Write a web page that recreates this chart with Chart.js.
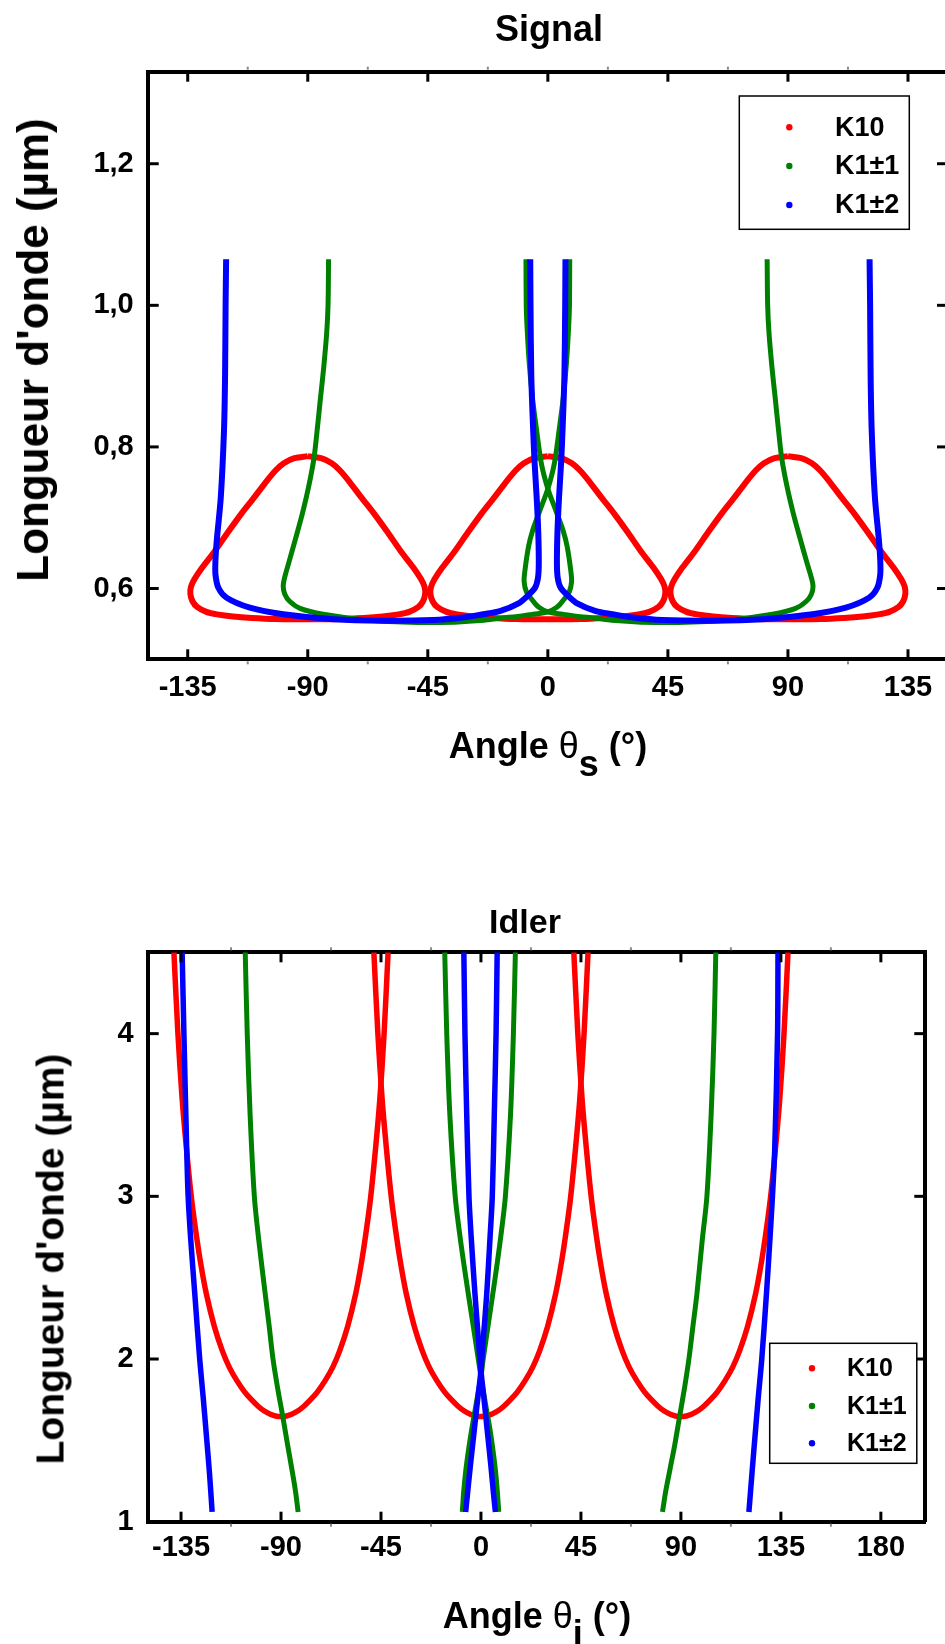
<!DOCTYPE html>
<html>
<head>
<meta charset="utf-8">
<script src="https://cdn.jsdelivr.net/npm/chart.js@4.4.1/dist/chart.umd.min.js"></script>
<style>
html,body{margin:0;padding:0;background:#fff;width:945px;height:1644px;overflow:hidden;}
#wrap{position:relative;width:945px;height:1644px;overflow:hidden;background:#fff;}
canvas{position:absolute;left:0;}
.t{position:absolute;font-family:"Liberation Sans",Arial,sans-serif;font-weight:bold;color:#000;white-space:nowrap;line-height:1;}
.sub{position:relative;top:0.5em;}
.th{font-weight:normal;}
</style>
</head>
<body>
<div id="wrap">
  <canvas id="c1" width="960" height="800" style="top:0px;width:960px;height:800px;"></canvas>
  <canvas id="c2" width="945" height="774" style="top:870px;width:945px;height:774px;"></canvas>
  <div class="t" style="left:549px;top:11px;font-size:36px;transform:translateX(-50%);">Signal</div>
  <div class="t" style="left:548px;top:728px;font-size:36px;transform:translateX(-50%);">Angle <span class="th">θ</span><span class="sub">s</span> (°)</div>
  <div class="t" style="left:33px;top:350px;font-size:44px;transform:translate(-50%,-50%) rotate(-90deg);">Longueur d'onde (µm)</div>
  <div class="t" style="left:525px;top:904px;font-size:34px;transform:translateX(-50%);">Idler</div>
  <div class="t" style="left:537px;top:1598px;font-size:36px;transform:translateX(-50%);">Angle <span class="th">θ</span><span class="sub">i</span> (°)</div>
  <div class="t" style="left:50px;top:1259px;font-size:39px;transform:translate(-50%,-50%) rotate(-90deg);">Longueur d'onde (µm)</div>
</div>
<script>
// ---------------- DATA ----------------
const seriesNames = ['K10', 'K1±1', 'K1±2'];

// Signal chart axes
const sigXRange = [-150, 150];
const sigYRange = [0.5, 1.33];
const sigXTicks = [-135, -90, -45, 0, 45, 90, 135];
const sigYTicks = [0.6, 0.8, 1.0, 1.2];
const sigYLabels = ['0,6', '0,8', '1,0', '1,2'];

// Signal K10: three closed loops (shared wavelength list)
const sigK10Lambda = [0.787,0.784,0.777,0.767,0.749,0.729,0.705,0.679,0.652,0.630,0.613,0.602,0.592,0.582,0.574,0.567,0.5635,0.5605,0.5585,0.557,0.5565,0.557,0.5585,0.5605,0.5635,0.567,0.574,0.582,0.592,0.602,0.613,0.630,0.652,0.679,0.705,0.729,0.749,0.767,0.777,0.784,0.787];
const sigK10LoopA = [-90,-85,-81,-78,-74,-70,-65,-60,-55,-50.5,-47.5,-46.2,-46,-46.8,-48.5,-52,-56,-62,-69,-78,-90,-102,-111,-118,-124,-128,-131.5,-133.2,-134,-133.8,-132.5,-129.5,-125,-120,-115,-110,-106,-102,-99,-95,-90];
const sigK10LoopB = [0,5,9,12,16,20,25,30,35,39.5,42.5,43.8,44,43.2,41.5,38,34,28,21,12,0,-12,-21,-28,-34,-38,-41.5,-43.2,-44,-43.8,-42.5,-39.5,-35,-30,-25,-20,-16,-12,-9,-5,0];
const sigK10LoopC = [90,95,99,102,106,110,115,120,125,129.5,132.5,133.8,134,133.2,131.5,128,124,118,111,102,90,78,69,62,56,52,48.5,46.8,46,46.2,47.5,50.5,55,60,65,70,74,78,81,85,90];

// Signal K1±1: two curves (shared wavelength list)
const sigK11Lambda = [1.065,1.0,0.961,0.913,0.87,0.83,0.786,0.745,0.706,0.670,0.638,0.615,0.603,0.592,0.582,0.572,0.5637,0.5555,0.552,0.5525,0.555,0.558,0.561,0.5637,0.567,0.574,0.583,0.595,0.61,0.628,0.66,0.682,0.71,0.741,0.776,0.823,0.87,0.92,0.97,1.0,1.065];
const sigK11Left  = [-82.2,-82.4,-82.9,-84.0,-85.2,-86.3,-87.6,-89.6,-92.0,-94.6,-97.0,-98.7,-99.2,-98.6,-96.8,-92.9,-84.2,-68,-49,-35,-24,-18,-10.5,-5.5,0,3.5,5.7,8,8.9,8.5,7.2,5.7,3,0,-2.4,-4.2,-5.8,-7,-7.8,-8.1,-8.2];
const sigK11Right = [82.2,82.4,82.9,84.0,85.2,86.3,87.6,89.6,92.0,94.6,97.0,98.8,99.4,98.8,96.9,92.9,84.2,68,49,35,24,18,10.5,5.5,0,-3.5,-5.7,-8,-8.9,-8.5,-7.2,-5.7,-3,0,2.4,4.2,5.8,7,7.8,8.1,8.2];

// Signal K1±2: two curves (shared wavelength list)
const sigK12Lambda = [1.065,1.0,0.9,0.823,0.729,0.668,0.64,0.62,0.601,0.587,0.573,0.5637,0.5566,0.5545,0.5555,0.559,0.5637,0.568,0.579,0.590,0.601,0.615,0.635,0.68,0.729,0.78,0.823,0.9,1.0,1.065];
const sigK12Left  = [-120.6,-120.8,-121.0,-121.4,-122.6,-124.1,-124.6,-124.6,-123.5,-120.4,-111.7,-99.2,-80.4,-61.7,-43,-32,-24.2,-18,-11,-7.5,-4.8,-3.7,-3.4,-3.6,-4.2,-5.0,-5.5,-6.2,-6.5,-6.6];
const sigK12Right = [120.6,120.8,121.0,121.4,122.6,124.1,124.6,124.6,123.5,120.4,111.7,99.2,80.4,61.7,43,32,24.2,18,11,7.5,4.8,3.7,3.4,3.6,4.2,5.0,5.5,6.2,6.5,6.6];

// Idler chart axes
const idlXRange = [-150, 200];
const idlYRange = [1, 4.5];
const idlXTicks = [-135, -90, -45, 0, 45, 90, 135, 180];
const idlYTicks = [1, 2, 3, 4];
const idlYLabels = ['1', '2', '3', '4'];

// Idler K10: three U-shaped curves (shared wavelength list)
const idlK10Lambda = [4.5,4.0,3.6,3.3,3.0,2.8,2.6,2.4,2.2,2.05,1.95,1.87,1.80,1.75,1.71,1.68,1.66,1.65,1.646,1.65,1.66,1.68,1.71,1.75,1.80,1.87,1.95,2.05,2.2,2.4,2.6,2.8,3.0,3.3,3.6,4.0,4.5];
const idlK10UA = [-138.2,-136.4,-134.5,-132.6,-130.4,-128.5,-126.3,-123.6,-120,-116.4,-113.3,-110,-106.5,-103.3,-100.3,-97.5,-94.8,-92.5,-90,-87.5,-85.2,-82.5,-79.7,-76.7,-73.5,-70,-66.7,-63.6,-60,-56.4,-53.7,-51.5,-49.6,-47.4,-45.5,-43.6,-41.8];
const idlK10UB = [-48.2,-46.4,-44.5,-42.6,-40.4,-38.5,-36.3,-33.6,-30,-26.4,-23.3,-20,-16.5,-13.3,-10.3,-7.5,-4.8,-2.5,0,2.5,4.8,7.5,10.3,13.3,16.5,20,23.3,26.4,30,33.6,36.3,38.5,40.4,42.6,44.5,46.4,48.2];
const idlK10UC = [41.8,43.6,45.5,47.4,49.6,51.5,53.7,56.4,60,63.6,66.7,70,73.5,76.7,79.7,82.5,85.2,87.5,90,92.5,94.8,97.5,100.3,103.3,106.5,110,113.3,116.4,120,123.6,126.3,128.5,130.4,132.6,134.5,136.4,138.2];

// Idler K1±1
const idlK11OuterLambda = [4.5,4.0,3.5,3.0,2.73,2.4,2.2,2.0,1.82,1.646,1.47,1.33,1.19,1.06];
const idlK11OuterLeft  = [-106.1,-105.2,-103.9,-102.0,-100.0,-97.1,-95.3,-93.6,-91.5,-89.2,-87.0,-85.2,-83.5,-82.3];
const idlK11OuterRight = [105.7,104.9,103.6,101.7,99.6,97.2,95.4,93.6,91.6,89.4,87.2,85.2,83.2,81.7];
const idlK11InnerLambda = [4.5,4.0,3.5,3.0,2.75,2.5,2.25,2.0,1.89,1.72,1.564,1.44,1.317,1.18,1.06];
const idlK11InnerA = [-16.3,-15.4,-14.0,-11.6,-9.4,-6.8,-4.0,-1.2,0,2.1,4.1,5.4,6.5,7.4,8.0];
const idlK11InnerB = [15.5,14.6,13.3,11.0,8.9,6.4,3.7,1.0,0,-2.2,-4.2,-5.6,-6.8,-7.8,-8.4];

// Idler K1±2
const idlK12OuterLeftLambda  = [4.5,4.0,3.32,3.0,2.73,2.4,2.0,1.76,1.533,1.3,1.06];
const idlK12OuterLeft        = [-134.5,-133.7,-132.5,-131.8,-130.6,-128.8,-126.6,-125,-123.6,-122.2,-121];
const idlK12OuterRightLambda = [4.5,4.0,3.28,3.0,2.70,2.4,2.0,1.76,1.533,1.3,1.06];
const idlK12OuterRight       = [133.7,133.5,132.2,131.2,129.9,128.5,126.4,124.8,123.4,122,120.6];
const idlK12InnerLambda = [4.5,4.0,3.5,3.0,2.75,2.4,2.15,1.93,1.75,1.564,1.34,1.18,1.06];
const idlK12InnerA = [-7.7,-7.2,-6.4,-5.4,-4.4,-2.7,-1.3,0,1.4,2.8,4.5,5.6,6.5];
const idlK12InnerB = [7.3,6.8,6.0,5.1,4.1,2.6,1.2,0,-1.5,-3.0,-4.8,-6.0,-6.9];

// ---------------- STYLE ----------------
const RED = '#ff0000', GREEN = '#008000', BLUE = '#0000ff';
const FONT = "'Liberation Sans', Arial, sans-serif";

function curve(label, xs, ys, color, width, order, inLegend) {
  return {
    label: label,
    data: xs.map((x, i) => ({x: x, y: ys[i]})),
    borderColor: color, backgroundColor: color,
    borderWidth: width, showLine: true, fill: false,
    pointRadius: 0, pointHoverRadius: 0, pointHitRadius: 0,
    tension: 0.3, order: order, clip: 0,
    inLegend: inLegend
  };
}

const frameAndLegend = {
  id: 'frameAndLegend',
  afterDraw(chart, args, opts) {
    const ctx = chart.ctx, a = chart.chartArea;
    const xs = chart.scales.x, ys = chart.scales.y;
    ctx.save();
    const seg = (x1, y1, x2, y2) => { ctx.beginPath(); ctx.moveTo(x1, y1); ctx.lineTo(x2, y2); ctx.stroke(); };
    // major inward ticks
    ctx.strokeStyle = '#000'; ctx.lineWidth = 3; ctx.lineCap = 'butt';
    xs.ticks.forEach(t => {
      const p = xs.getPixelForValue(t.value);
      seg(p, a.bottom, p, a.bottom - 10);
      seg(p, a.top, p, a.top + 10);
    });
    ys.ticks.forEach(t => {
      const p = ys.getPixelForValue(t.value);
      seg(a.left, p, a.left + 11, p);
      seg(a.right, p, a.right - 11, p);
    });
    // minor outward ticks on x
    ctx.strokeStyle = '#888'; ctx.lineWidth = 2;
    const tv = xs.ticks.map(t => t.value);
    const step = tv[1] - tv[0];
    const minors = [];
    tv.forEach(v => { minors.push(v - step / 2); minors.push(v + step / 2); });
    [...new Set(minors)].filter(v => v > xs.min && v < xs.max).forEach(v => {
      const p = xs.getPixelForValue(v);
      seg(p, a.bottom + 2, p, a.bottom + 5);
      seg(p, a.top - 2, p, a.top - 5);
    });
    // legend
    const L = opts;
    ctx.strokeStyle = '#000'; ctx.lineWidth = 1.5;
    ctx.fillStyle = '#fff';
    ctx.fillRect(L.x, L.y, L.w, L.h);
    ctx.strokeRect(L.x, L.y, L.w, L.h);
    const items = chart.data.datasets.filter(d => d.inLegend);
    ctx.font = 'bold ' + L.size + 'px ' + FONT;
    ctx.textBaseline = 'middle'; ctx.textAlign = 'left';
    items.forEach((d, i) => {
      const yy = L.rows[i];
      ctx.fillStyle = d.borderColor;
      ctx.beginPath(); ctx.arc(L.dotX, yy, 3.2, 0, Math.PI * 2); ctx.fill();
      ctx.fillStyle = '#000';
      ctx.fillText(d.label, L.textX, yy + 1);
    });
    ctx.restore();
  }
};

function axes(xr, yr, xt, yt, ylabels, pad) {
  const tickFont = {family: FONT, weight: 'bold', size: 29};
  const common = {
    type: 'linear', grid: {display: false, drawTicks: false},
    border: {display: true, width: 4, color: '#000'}, z: 1
  };
  return {
    x: Object.assign({}, common, {
      position: 'bottom', min: xr[0], max: xr[1],
      afterBuildTicks: s => { s.ticks = xt.map(v => ({value: v})); },
      ticks: {font: tickFont, color: '#000', padding: pad.xl, autoSkip: false, maxRotation: 0,
              callback: (v) => String(v)},
      afterFit: s => { s.height = 60; }
    }),
    x2: Object.assign({}, common, {
      position: 'top', min: xr[0], max: xr[1],
      ticks: {display: false}, afterFit: s => { s.height = 0; }
    }),
    y: Object.assign({}, common, {
      position: 'left', min: yr[0], max: yr[1],
      afterBuildTicks: s => { s.ticks = yt.map(v => ({value: v})); },
      ticks: {font: tickFont, color: '#000', padding: 14, autoSkip: false,
              callback: (v, i) => ylabels[i]},
      afterFit: s => { s.width = 147.7; }
    }),
    y2: Object.assign({}, common, {
      position: 'right', min: yr[0], max: yr[1],
      ticks: {display: false}, afterFit: s => { s.width = 0; }
    })
  };
}

// ---------------- SIGNAL ----------------
new Chart(document.getElementById('c1'), {
  type: 'scatter',
  data: {
    datasets: [
      curve(seriesNames[0], sigK10LoopA, sigK10Lambda, RED, 6, 3, true),
      curve(seriesNames[0], sigK10LoopB, sigK10Lambda, RED, 6, 3, false),
      curve(seriesNames[0], sigK10LoopC, sigK10Lambda, RED, 6, 3, false),
      curve(seriesNames[1], sigK11Left, sigK11Lambda, GREEN, 5, 2, true),
      curve(seriesNames[1], sigK11Right, sigK11Lambda, GREEN, 5, 2, false),
      curve(seriesNames[2], sigK12Left, sigK12Lambda, BLUE, 6, 1, true),
      curve(seriesNames[2], sigK12Right, sigK12Lambda, BLUE, 6, 1, false)
    ]
  },
  options: {
    responsive: false, animation: false, devicePixelRatio: 1,
    layout: {padding: {top: 71.7, left: 0, right: 12, bottom: 80.7}},
    plugins: {
      legend: {display: false}, tooltip: {enabled: false}, title: {display: false},
      frameAndLegend: {x: 739.3, y: 96, w: 170, h: 133.3, dotX: 789.3, textX: 835, rows: [127.3, 166, 205], size: 27}
    },
    scales: axes(sigXRange, sigYRange, sigXTicks, sigYTicks, sigYLabels, {xl: 10.8})
  },
  plugins: [frameAndLegend]
});

// ---------------- IDLER ----------------
new Chart(document.getElementById('c2'), {
  type: 'scatter',
  data: {
    datasets: [
      curve(seriesNames[0], idlK10UA, idlK10Lambda, RED, 5.5, 3, true),
      curve(seriesNames[0], idlK10UB, idlK10Lambda, RED, 5.5, 3, false),
      curve(seriesNames[0], idlK10UC, idlK10Lambda, RED, 5.5, 3, false),
      curve(seriesNames[1], idlK11OuterLeft, idlK11OuterLambda, GREEN, 5, 2, true),
      curve(seriesNames[1], idlK11OuterRight, idlK11OuterLambda, GREEN, 5, 2, false),
      curve(seriesNames[1], idlK11InnerA, idlK11InnerLambda, GREEN, 5, 2, false),
      curve(seriesNames[1], idlK11InnerB, idlK11InnerLambda, GREEN, 5, 2, false),
      curve(seriesNames[2], idlK12OuterLeft, idlK12OuterLeftLambda, BLUE, 5.5, 1, true),
      curve(seriesNames[2], idlK12OuterRight, idlK12OuterRightLambda, BLUE, 5.5, 1, false),
      curve(seriesNames[2], idlK12InnerA, idlK12InnerLambda, BLUE, 5.5, 1, false),
      curve(seriesNames[2], idlK12InnerB, idlK12InnerLambda, BLUE, 5.5, 1, false)
    ]
  },
  options: {
    responsive: false, animation: false, devicePixelRatio: 1,
    layout: {padding: {top: 82.3, left: 0, right: 19.7, bottom: 62.3}},
    plugins: {
      legend: {display: false}, tooltip: {enabled: false}, title: {display: false},
      frameAndLegend: {x: 769.7, y: 473.3, w: 147.1, h: 120, dotX: 812, textX: 847, rows: [498.3, 536, 573.3], size: 25}
    },
    scales: axes(idlXRange, idlYRange, idlXTicks, idlYTicks, idlYLabels, {xl: 9.2})
  },
  plugins: [frameAndLegend]
});
</script>
</body>
</html>
